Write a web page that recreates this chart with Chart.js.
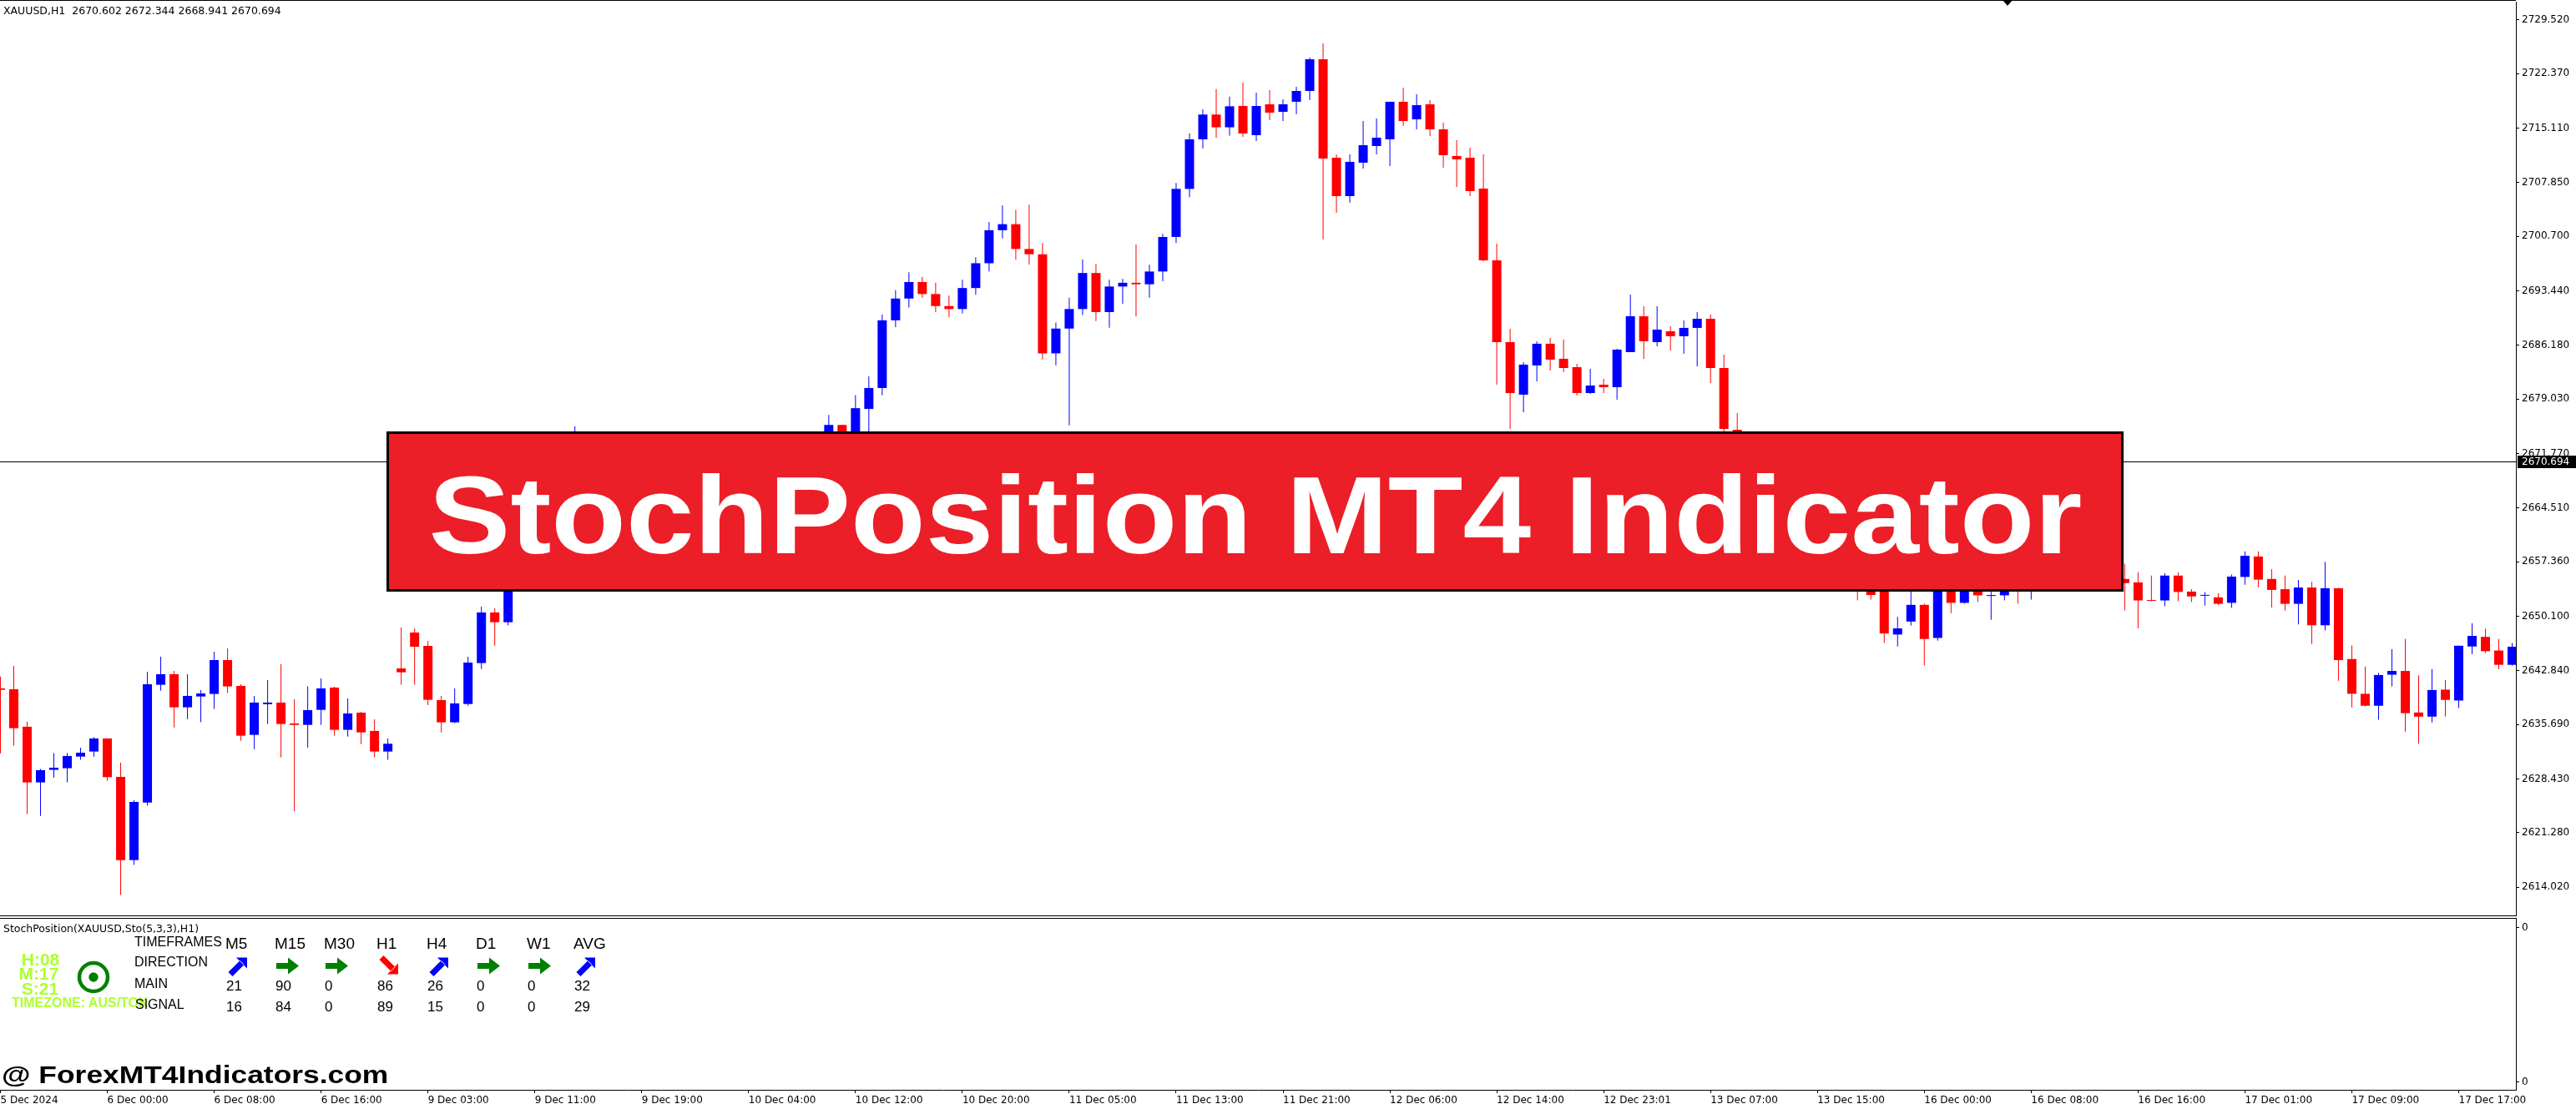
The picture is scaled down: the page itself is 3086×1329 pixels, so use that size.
<!DOCTYPE html>
<html>
<head>
<meta charset="utf-8">
<title>StochPosition MT4 Indicator</title>
<script src="https://cdn.jsdelivr.net/npm/chart.js"></script>
<style>
  body { margin: 0; width: 3086px; height: 1329px; background: #fff; overflow: hidden; position: relative; font-family: 'Liberation Sans', Arial, sans-serif; }
  canvas { position: absolute; left: 0; }
  #main { top: 0; }
  #sub { top: 1098px; }
  .t { position: absolute; white-space: pre; line-height: 1; color: #000; }
  #banner { position: absolute; left: 463px; top: 517px; width: 2081px; height: 192px; box-sizing: border-box;
            background: #ec1e27; border: 3px solid #000; overflow: hidden; }
  #banner .txt { position: absolute; left: 50%; top: 32px; font: bold 131px 'Liberation Sans', Arial, sans-serif;
                 color: #fff; line-height: 1; white-space: nowrap; transform: translateX(-50%) scaleX(1.12); }
</style>
</head>
<body>
<canvas id="main" width="3086" height="1099"></canvas>
<canvas id="sub" width="3086" height="231"></canvas>
<div id="banner"><div class="txt">StochPosition MT4 Indicator</div></div>

<script>
// ---- price data (XAUUSD H1), one value per candle ----
const opens = [
  2640.49, 2640.38, 2635.38, 2627.97, 2629.64, 2629.86, 2631.41, 2632.08, 2633.82, 2628.71,
  2617.63, 2625.30, 2640.97, 2642.38, 2637.97, 2639.41, 2639.75, 2644.26, 2640.82, 2634.30,
  2638.38, 2638.60, 2635.82, 2635.63, 2637.63, 2640.60, 2634.97, 2637.26, 2634.82, 2632.08,
  2643.15, 2647.93, 2646.15, 2638.93, 2635.97, 2638.41, 2643.86, 2650.60, 2649.30, 2656.80,
  2658.40, 2660.90, 2659.50, 2666.20, 2668.00, 2664.20, 2662.10, 2664.80, 2666.50, 2663.60,
  2661.00, 2663.70, 2665.90, 2664.70, 2666.80, 2669.60, 2667.50, 2668.90, 2671.00, 2669.40,
  2670.80, 2672.10, 2673.00, 2675.57, 2673.40, 2677.70, 2680.49, 2689.50, 2692.40, 2694.60,
  2693.00, 2691.40, 2691.00, 2693.80, 2697.10, 2701.50, 2702.30, 2699.00, 2698.30, 2685.10,
  2688.40, 2691.00, 2695.80, 2690.60, 2694.00, 2694.50, 2694.30, 2696.00, 2700.60, 2707.00,
  2713.60, 2716.90, 2715.20, 2718.04, 2714.15, 2718.26, 2717.26, 2718.60, 2720.04, 2724.26,
  2711.15, 2706.04, 2710.49, 2712.71, 2713.60, 2718.60, 2716.26, 2718.26, 2714.93, 2711.38,
  2711.15, 2707.04, 2697.49, 2686.60, 2679.60, 2683.49, 2686.38, 2684.38, 2683.26, 2679.82,
  2680.93, 2680.60, 2685.26, 2690.04, 2686.60, 2688.04, 2687.38, 2688.49, 2689.71, 2683.15,
  2674.93, 2669.50, 2667.00, 2665.10, 2667.40, 2663.00, 2661.40, 2663.50, 2659.30, 2660.40,
  2655.40, 2656.50, 2647.66, 2649.39, 2651.61, 2647.21, 2657.60, 2651.88, 2655.90, 2652.80,
  2652.88, 2655.50, 2654.20, 2656.40, 2657.80, 2656.50, 2658.60, 2657.40, 2655.70, 2655.06,
  2654.60, 2652.24, 2652.20, 2655.51, 2653.38, 2652.83, 2652.61, 2651.88, 2655.33, 2658.05,
  2655.06, 2653.70, 2651.75, 2653.92, 2648.89, 2653.83, 2644.40, 2639.77, 2638.18, 2642.31,
  2642.81, 2637.28, 2636.73, 2640.32, 2638.87, 2646.07, 2647.35, 2645.53, 2643.63
];
const highs = [
  2642.08, 2643.49, 2636.04, 2629.75, 2631.86, 2631.86, 2632.60, 2633.97, 2633.85, 2630.60,
  2625.60, 2642.71, 2644.71, 2642.82, 2642.38, 2640.27, 2645.38, 2645.82, 2641.04, 2639.49,
  2641.60, 2643.71, 2639.04, 2640.75, 2641.82, 2640.71, 2639.15, 2637.38, 2636.38, 2633.82,
  2648.60, 2648.49, 2646.82, 2639.49, 2640.49, 2644.71, 2651.38, 2651.15, 2657.50, 2659.20,
  2661.50, 2663.00, 2667.00, 2675.40, 2670.10, 2666.00, 2665.40, 2667.30, 2668.00, 2665.20,
  2664.30, 2666.90, 2668.20, 2667.40, 2670.50, 2671.20, 2669.90, 2672.30, 2673.20, 2671.90,
  2673.40, 2674.10, 2676.90, 2675.60, 2679.55, 2682.04, 2690.30, 2693.50, 2695.90, 2695.30,
  2694.50, 2692.80, 2694.90, 2697.90, 2702.60, 2704.80, 2704.20, 2704.90, 2699.80, 2689.20,
  2692.50, 2697.60, 2697.00, 2694.90, 2695.00, 2699.60, 2696.90, 2701.00, 2707.80, 2714.40,
  2717.60, 2720.30, 2719.30, 2721.15, 2719.82, 2720.15, 2718.93, 2720.60, 2724.49, 2726.38,
  2711.60, 2711.60, 2716.04, 2716.38, 2718.60, 2720.49, 2719.60, 2718.82, 2715.82, 2713.49,
  2712.49, 2711.60, 2699.71, 2688.38, 2683.93, 2686.71, 2687.15, 2686.93, 2683.71, 2683.04,
  2681.71, 2685.71, 2692.93, 2691.38, 2691.38, 2688.71, 2689.49, 2690.60, 2690.26, 2684.93,
  2677.15, 2672.00, 2669.30, 2668.20, 2669.00, 2665.80, 2664.30, 2664.90, 2661.70, 2662.00,
  2657.00, 2658.00, 2650.02, 2653.38, 2651.79, 2658.50, 2659.00, 2656.80, 2657.20, 2655.30,
  2656.50, 2657.00, 2657.60, 2658.90, 2660.10, 2659.40, 2661.20, 2659.00, 2657.80, 2657.10,
  2655.96, 2655.51, 2655.83, 2655.96, 2653.70, 2653.33, 2653.15, 2655.64, 2658.73, 2658.73,
  2656.37, 2655.51, 2654.92, 2654.69, 2657.32, 2653.90, 2646.21, 2643.40, 2642.58, 2645.71,
  2647.07, 2642.22, 2643.08, 2641.59, 2646.17, 2649.16, 2648.43, 2647.07, 2646.53
];
const lows = [
  2631.85, 2632.86, 2623.75, 2623.52, 2628.60, 2627.97, 2630.97, 2631.41, 2628.19, 2612.97,
  2616.97, 2624.86, 2640.19, 2635.30, 2636.41, 2635.97, 2637.75, 2639.86, 2633.52, 2632.41,
  2635.75, 2631.30, 2624.08, 2632.63, 2635.63, 2634.19, 2634.08, 2633.08, 2631.30, 2630.97,
  2640.97, 2640.97, 2638.26, 2634.63, 2635.86, 2638.19, 2643.08, 2646.19, 2648.86, 2655.00,
  2657.00, 2658.60, 2659.00, 2664.50, 2663.30, 2660.80, 2660.50, 2663.10, 2662.90, 2659.80,
  2660.20, 2662.80, 2664.00, 2663.50, 2666.00, 2666.80, 2665.20, 2667.80, 2668.70, 2667.90,
  2669.20, 2670.00, 2671.80, 2672.50, 2672.90, 2673.80, 2679.52, 2688.60, 2691.20, 2692.50,
  2690.60, 2689.90, 2690.40, 2692.90, 2696.00, 2700.40, 2697.60, 2696.90, 2684.30, 2683.50,
  2675.50, 2690.20, 2689.40, 2688.50, 2691.70, 2690.00, 2692.50, 2694.70, 2699.80, 2705.90,
  2712.40, 2713.80, 2714.10, 2713.93, 2713.38, 2716.15, 2716.04, 2716.93, 2718.82, 2700.26,
  2703.82, 2705.15, 2709.71, 2711.60, 2710.04, 2715.38, 2714.93, 2714.04, 2709.82, 2707.26,
  2706.04, 2697.38, 2680.93, 2675.04, 2677.26, 2681.38, 2682.82, 2682.60, 2679.49, 2679.71,
  2679.82, 2678.93, 2685.26, 2684.38, 2686.04, 2685.49, 2685.04, 2683.38, 2681.15, 2671.50,
  2668.00, 2666.10, 2664.00, 2663.60, 2662.20, 2660.10, 2659.80, 2658.60, 2656.40, 2652.20,
  2652.33, 2646.53, 2646.08, 2648.84, 2643.54, 2646.85, 2650.52, 2651.75, 2651.97, 2649.62,
  2652.20, 2651.75, 2652.33, 2654.30, 2655.60, 2654.80, 2656.90, 2654.60, 2654.00, 2650.88,
  2648.48, 2652.10, 2651.43, 2652.10, 2651.97, 2651.52, 2651.61, 2651.20, 2654.29, 2653.92,
  2651.25, 2650.84, 2649.02, 2646.39, 2648.21, 2641.50, 2637.96, 2638.10, 2636.33, 2640.77,
  2634.74, 2633.11, 2635.96, 2636.73, 2637.87, 2645.03, 2645.21, 2643.04, 2643.50
];
const closes = [
  2640.30, 2635.19, 2627.97, 2629.60, 2629.93, 2631.49, 2631.93, 2633.82, 2628.67, 2617.63,
  2625.37, 2641.04, 2642.38, 2637.97, 2639.49, 2639.82, 2644.26, 2640.75, 2634.19, 2638.60,
  2638.60, 2635.75, 2635.63, 2637.60, 2640.49, 2634.97, 2637.15, 2634.63, 2632.08, 2633.12,
  2642.63, 2646.04, 2638.97, 2635.97, 2638.49, 2643.93, 2650.60, 2649.30, 2656.80, 2658.40,
  2660.90, 2659.50, 2666.20, 2668.00, 2664.20, 2662.10, 2664.80, 2666.50, 2663.60, 2661.00,
  2663.70, 2665.90, 2664.70, 2666.80, 2669.60, 2667.50, 2668.90, 2671.00, 2669.40, 2670.80,
  2672.10, 2673.00, 2675.57, 2673.40, 2677.80, 2680.49, 2689.50, 2692.40, 2694.60, 2693.00,
  2691.40, 2691.00, 2693.80, 2697.10, 2701.50, 2702.30, 2699.00, 2698.30, 2685.10, 2688.40,
  2691.00, 2695.80, 2690.60, 2694.00, 2694.50, 2694.30, 2696.00, 2700.60, 2707.00, 2713.60,
  2716.90, 2715.20, 2718.00, 2714.38, 2718.04, 2717.15, 2718.26, 2720.04, 2724.26, 2711.04,
  2706.04, 2710.60, 2712.82, 2713.82, 2718.60, 2716.04, 2718.15, 2714.93, 2711.49, 2710.93,
  2706.71, 2697.49, 2686.60, 2679.82, 2683.60, 2686.38, 2684.26, 2683.15, 2679.82, 2680.82,
  2680.60, 2685.60, 2690.04, 2686.71, 2688.26, 2687.38, 2688.49, 2689.71, 2683.15, 2675.04,
  2669.50, 2667.00, 2665.10, 2667.40, 2663.00, 2661.40, 2663.50, 2659.30, 2660.40, 2655.40,
  2652.92, 2647.80, 2648.48, 2651.61, 2647.07, 2657.60, 2651.88, 2655.90, 2652.88, 2652.92,
  2655.50, 2654.20, 2656.40, 2657.80, 2656.50, 2658.60, 2657.40, 2655.70, 2655.10, 2654.51,
  2652.20, 2652.15, 2655.51, 2653.33, 2652.74, 2652.92, 2651.75, 2655.37, 2658.14, 2654.97,
  2653.60, 2651.75, 2653.92, 2648.89, 2653.83, 2644.26, 2639.77, 2638.18, 2642.27, 2642.81,
  2637.19, 2636.73, 2640.27, 2638.96, 2646.17, 2647.48, 2645.44, 2643.63, 2646.03
];

const priceTicks = [2614.02, 2621.28, 2628.43, 2635.69, 2642.84, 2650.10, 2657.36, 2664.51, 2671.77,
                    2679.03, 2686.18, 2693.44, 2700.70, 2707.85, 2715.11, 2722.37, 2729.52];
const timeLabels = ['5 Dec 2024', '6 Dec 00:00', '6 Dec 08:00', '6 Dec 16:00', '9 Dec 03:00', '9 Dec 11:00',
                    '9 Dec 19:00', '10 Dec 04:00', '10 Dec 12:00', '10 Dec 20:00', '11 Dec 05:00', '11 Dec 13:00',
                    '11 Dec 21:00', '12 Dec 06:00', '12 Dec 14:00', '12 Dec 23:01', '13 Dec 07:00', '13 Dec 15:00',
                    '16 Dec 00:00', '16 Dec 08:00', '16 Dec 16:00', '17 Dec 01:00', '17 Dec 09:00', '17 Dec 17:00'];
const headerText = 'XAUUSD,H1  2670.602 2672.344 2668.941 2670.694';
const lastPrice = 2670.694;

// indicator table
const timeframes = ['M5', 'M15', 'M30', 'H1', 'H4', 'D1', 'W1', 'AVG'];
const directions = ['up', 'flat', 'flat', 'down', 'up', 'flat', 'flat', 'up'];
const mainVals = [21, 90, 0, 86, 26, 0, 0, 32];
const signalVals = [16, 84, 0, 89, 15, 0, 0, 29];
const clockText = ['H:08', 'M:17', 'S:21'];

// ---- layout ----
const X_MIN = -0.031, X_MAX = 188.28;
const Y_MIN = 2610.26, Y_MAX = 2731.93;
const AXIS_W = 72;
const colX = [270, 329, 388, 451, 511, 570, 631, 687];
const axisFont = { family: 'DejaVu Sans', size: 12 };

const idx = opens.map((_, i) => i);
const candleColors = idx.map(i => closes[i] >= opens[i] ? '#0000ff' : '#ff0000');

const mainFrame = {
  id: 'mainFrame',
  beforeDatasetsDraw(chart) {
    const { ctx, chartArea: a, scales: { y } } = chart;
    const py = Math.round(y.getPixelForValue(lastPrice));
    ctx.save();
    ctx.fillStyle = '#000';
    ctx.fillRect(a.left, py, a.right - a.left, 1);
    ctx.restore();
  },
  afterDraw(chart) {
    const { ctx, chartArea: a, scales: { y } } = chart;
    ctx.save();
    ctx.fillStyle = '#000';
    ctx.fillRect(0, 0, a.right, 1);
    ctx.fillRect(0, a.bottom, a.right + 1, 1);
    // shift marker
    ctx.beginPath();
    ctx.moveTo(2399, 0); ctx.lineTo(2411, 0); ctx.lineTo(2405, 7); ctx.closePath();
    ctx.fill();
    // current price box
    const py = Math.round(y.getPixelForValue(lastPrice));
    ctx.fillRect(a.right + 2, py - 7, chart.width - a.right - 2, 15);
    ctx.fillStyle = '#fff';
    ctx.font = '12px "DejaVu Sans"';
    ctx.textBaseline = 'middle';
    ctx.fillText(lastPrice.toFixed(3), a.right + 7, py + 0.5);
    ctx.restore();
  }
};

new Chart(document.getElementById('main'), {
  type: 'bar',
  data: {
    datasets: [
      {
        data: idx.map(i => ({ x: i, y: [opens[i], closes[i]] })),
        backgroundColor: candleColors, grouped: false, maxBarThickness: 11,
        minBarLength: 1, inflateAmount: 0, borderWidth: 0
      },
      {
        data: idx.map(i => ({ x: i, y: [lows[i], highs[i]] })),
        backgroundColor: candleColors, grouped: false, maxBarThickness: 1,
        inflateAmount: 0, borderWidth: 0
      }
    ]
  },
  options: {
    responsive: false,
    animation: false,
    layout: { padding: { top: 2, bottom: 2, left: 0, right: 0 } },
    plugins: { legend: { display: false }, tooltip: { enabled: false } },
    scales: {
      x: { type: 'linear', min: X_MIN, max: X_MAX, offset: false, display: false },
      y: {
        type: 'linear', position: 'right', min: Y_MIN, max: Y_MAX,
        border: { display: true, color: '#000', width: 1 },
        grid: { drawOnChartArea: false, drawTicks: true, tickLength: 4, color: '#000' },
        ticks: { color: '#000', font: axisFont, padding: 3, autoSkip: false, callback: v => v.toFixed(3) },
        afterBuildTicks: s => { s.ticks = priceTicks.map(v => ({ value: v })); },
        afterFit: s => { s.width = AXIS_W; s.paddingTop = 0; s.paddingBottom = 0; }
      }
    }
  },
  plugins: [mainFrame]
});

// ---- indicator sub-window ----
function drawArrow(ctx, cx, cy, dir, color) {
  ctx.save();
  ctx.translate(cx, cy);
  ctx.fillStyle = color;
  ctx.beginPath();
  if (dir === 'flat') {
    ctx.moveTo(-13, -3.5); ctx.lineTo(1, -3.5); ctx.lineTo(1, -10); ctx.lineTo(14, 0);
    ctx.lineTo(1, 10); ctx.lineTo(1, 3.5); ctx.lineTo(-13, 3.5);
  } else {
    const s = dir === 'up' ? 1 : -1;
    ctx.moveTo(-2, -10 * s); ctx.lineTo(11, -10 * s); ctx.lineTo(11, 3 * s); ctx.closePath();
    ctx.moveTo(-11.5, 7.5 * s); ctx.lineTo(-6.5, 12.5 * s); ctx.lineTo(7.5, -1.5 * s); ctx.lineTo(2.5, -6.5 * s);
  }
  ctx.closePath();
  ctx.fill();
  ctx.restore();
}

const subFrame = {
  id: 'subFrame',
  afterDraw(chart) {
    const { ctx, chartArea: a } = chart;
    ctx.save();
    ctx.fillStyle = '#000';
    ctx.fillRect(0, a.top, a.right, 1);
    // status circle
    ctx.strokeStyle = '#008000';
    ctx.fillStyle = '#008000';
    ctx.lineWidth = 4.5;
    ctx.beginPath(); ctx.arc(112, 73, 17, 0, Math.PI * 2); ctx.stroke();
    ctx.beginPath(); ctx.arc(112, 73, 5.7, 0, Math.PI * 2); ctx.fill();
    // direction arrows
    const arrowColor = { up: '#0000ff', flat: '#008000', down: '#ff0000' };
    directions.forEach((d, k) => drawArrow(ctx, colX[k] + 15, 59.5, d, arrowColor[d]));
    ctx.restore();
  }
};

new Chart(document.getElementById('sub'), {
  type: 'scatter',
  data: { datasets: [] },
  options: {
    responsive: false,
    animation: false,
    layout: { padding: { top: 2, bottom: 0, left: 0, right: 0 } },
    plugins: { legend: { display: false }, tooltip: { enabled: false } },
    scales: {
      x: {
        type: 'linear', position: 'bottom', min: X_MIN, max: X_MAX, offset: false,
        border: { display: true, color: '#000', width: 1 },
        grid: { drawOnChartArea: false, drawTicks: true, tickLength: 4, color: '#000' },
        ticks: { color: '#000', font: axisFont, padding: 2, autoSkip: false, maxRotation: 0, minRotation: 0,
                 align: 'start', callback: (v, k) => timeLabels[k] },
        afterBuildTicks: s => { s.ticks = timeLabels.map((_, k) => ({ value: k * 8 })); },
        afterFit: s => { s.height = 23; s.paddingLeft = 0; s.paddingRight = 0; }
      },
      y: {
        type: 'linear', position: 'right', min: 0, max: 1,
        border: { display: true, color: '#000', width: 1 },
        grid: { drawOnChartArea: false, drawTicks: true, tickLength: 4, color: '#000' },
        ticks: { color: '#000', font: axisFont, padding: 3, autoSkip: false, callback: () => '0' },
        afterBuildTicks: s => { s.ticks = [{ value: 0.044 }, { value: 0.942 }]; },
        afterFit: s => { s.width = AXIS_W; s.paddingTop = 0; s.paddingBottom = 0; }
      }
    }
  },
  plugins: [subFrame]
});

// ---- text overlays ----
function put(text, x, cy, size, opt = {}) {
  const d = document.createElement('div');
  d.className = 't';
  d.textContent = text;
  d.style.left = x + 'px';
  d.style.top = (cy - size * 0.49) + 'px';
  d.style.fontSize = size + 'px';
  if (opt.family) d.style.fontFamily = opt.family;
  if (opt.bold) d.style.fontWeight = 'bold';
  if (opt.color) d.style.color = opt.color;
  const tr = [];
  if (opt.center) tr.push('translateX(-50%)');
  if (opt.sx) { tr.push(`scaleX(${opt.sx})`); d.style.transformOrigin = opt.center ? '50% 0' : '0 0'; }
  if (tr.length) d.style.transform = tr.join(' ');
  document.body.appendChild(d);
  return d;
}

put(headerText, 4, 12.7, 12.5, { family: 'DejaVu Sans' });
put('StochPosition(XAUUSD,Sto(5,3,3),H1)', 4, 1113, 12.5, { family: 'DejaVu Sans' });

const lime = '#adff2f';
put(clockText[0], 48.5, 1149.3, 21, { bold: true, color: lime, center: true });
put(clockText[1], 46.5, 1166.7, 21, { bold: true, color: lime, center: true });
put(clockText[2], 48, 1184.2, 21, { bold: true, color: lime, center: true });
put('TIMEZONE: AUS/TOK', 14, 1202.2, 16, { bold: true, color: lime });

put('TIMEFRAMES', 161, 1129.3, 16);
put('DIRECTION', 161, 1153.3, 16);
put('MAIN', 161, 1179.3, 16);
put('SIGNAL', 162, 1204.3, 16);

timeframes.forEach((tf, k) => put(tf, colX[k], 1130, 19));
mainVals.forEach((v, k) => put(String(v), colX[k] + 1, 1181.7, 17));
signalVals.forEach((v, k) => put(String(v), colX[k] + 1, 1206.7, 17));

put('@ ForexMT4Indicators.com', 2, 1287.5, 30, { bold: true, sx: 1.18 });
</script>
</body>
</html>
